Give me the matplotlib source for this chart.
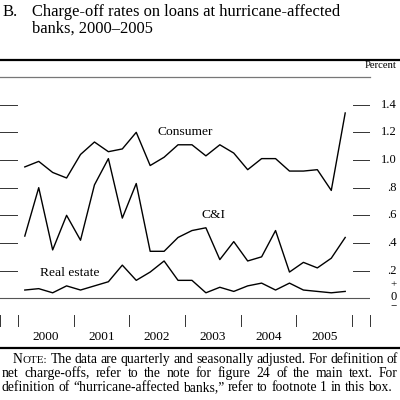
import numpy as np
import matplotlib
matplotlib.use("Agg")
import matplotlib.pyplot as plt

plt.rcParams["font.family"] = ["Liberation Serif", "DejaVu Serif"]

# quarterly data, 2000Q1 .. 2005Q4
years = np.arange(2000, 2006)
quarter_pos = np.array([0.125, 0.375, 0.625, 0.875])
consumer = [0.95, 0.99, 0.91, 0.87, 1.04, 1.13, 1.06, 1.08, 1.20, 0.96, 1.02, 1.11,
            1.11, 1.03, 1.11, 1.05, 0.93, 1.01, 1.01, 0.92, 0.92, 0.93, 0.78, 1.34]
c_and_i = [0.45, 0.80, 0.35, 0.60, 0.42, 0.82, 1.01, 0.58, 0.83, 0.34, 0.34, 0.44,
           0.49, 0.51, 0.28, 0.41, 0.27, 0.30, 0.49, 0.19, 0.26, 0.22, 0.29, 0.44]
real_estate = [0.06, 0.07, 0.04, 0.09, 0.06, 0.09, 0.12, 0.24, 0.13, 0.19, 0.27, 0.13,
               0.13, 0.04, 0.08, 0.05, 0.09, 0.11, 0.06, 0.11, 0.06, 0.05, 0.04, 0.05]
ytick_vals = [0.2, 0.4, 0.6, 0.8, 1.0, 1.2, 1.4]
ytick_labels = [".2", ".4", ".6", ".8", "1.0", "1.2", "1.4"]

x = (years[:, None] + quarter_pos[None, :]).ravel()

W = H = 400
fig = plt.figure(figsize=(4, 4), dpi=100)


def fx(px):
    return px / W


def fy(py):
    return 1 - py / H


# plot area
x0, x1 = 1999.68, 2006.32
ax = fig.add_axes([fx(0), fy(326), fx(370), fy(77) - fy(326)])
ax.set_xlim(x0, x1)
ax.set_ylim(-0.2, 1.6)
ax.axis("off")

for series in (consumer, c_and_i, real_estate):
    ax.plot(x, series, color="black", lw=1.0)

# zero line and top rule
ax.axhline(0, color="#555555", lw=0.8)
ax.axhline(1.6, color="#777777", lw=0.9, clip_on=False)

# short ticks on both sides
ty = ax.get_yaxis_transform()
for v in ytick_vals:
    ax.plot([0, 17 / 370], [v, v], transform=ty, color="#333333", lw=0.7)
    ax.plot([353 / 370, 1], [v, v], transform=ty, color="#333333", lw=0.7)

# year boundary ticks at bottom
tx = ax.get_xaxis_transform()
for b in [x0] + list(range(2000, 2007)) + [x1]:
    ax.plot([b, b], [0, 11 / 249], transform=tx, color="#333333", lw=0.7,
            clip_on=False)
for yr in years:
    ax.text(yr + 0.5, -0.045, str(yr), transform=tx, ha="center", va="center",
            fontsize=9.5)

# right tick labels
rt = matplotlib.transforms.blended_transform_factory(fig.transFigure, ax.transData)
for v, lab in zip(ytick_vals, ytick_labels):
    ax.text(fx(397), v, lab, transform=rt, ha="right", va="center", fontsize=9)
fig.text(fx(394), fy(285), "+", ha="center", va="center", fontsize=8)
fig.text(fx(394), fy(297), "0", ha="center", va="center", fontsize=9)
fig.text(fx(394), fy(307), "\u2212", ha="center", va="center", fontsize=8)
fig.text(fx(397), fy(66), "Percent", ha="right", va="center", fontsize=7.7)

# series labels
fig.text(fx(158), fy(132), "Consumer", ha="left", va="center", fontsize=9.7)
fig.text(fx(202), fy(215), "C&I", ha="left", va="center", fontsize=9.7)
fig.text(fx(40), fy(273), "Real estate", ha="left", va="center", fontsize=9.7)

# title
fig.text(fx(3), fy(16), "B.", ha="left", va="baseline", fontsize=11.9)
fig.text(fx(32), fy(16), "Charge-off rates on loans at hurricane-affected",
         ha="left", va="baseline", fontsize=11.9)
fig.text(fx(32), fy(33), "banks, 2000\u20132005", ha="left", va="baseline",
         fontsize=11.9)

# rules
fig.add_artist(plt.Line2D([0, 1], [fy(60), fy(60)], color="black", lw=1.6))
fig.add_artist(plt.Line2D([0, 1], [fy(348), fy(348)], color="black", lw=1.6))

# justified note
fs = 9.85
note_lines = [
    (13, 398, True, [[("N", fs), ("OTE:", fs * 0.8)], "The", "data", "are", "quarterly",
                     "and", "seasonally", "adjusted.", "For", "definition", "of"]),
    (2, 398, True, ["net", "charge-offs,", "refer", "to", "the", "note", "for", "figure",
                    "24", "of", "the", "main", "text.", "For"]),
    (2, 398, False, ["definition", "of", "\u201churricane-affected", "banks,\u201d", "refer",
                     "to", "footnote", "1", "in", "this", "box."]),
]
note_y = [363, 377, 391]
renderer = fig.canvas.get_renderer()

for (left, right, justify, words), yb in zip(note_lines, note_y):
    pieces = []
    widths = []
    for w in words:
        segs = [(w, fs)] if isinstance(w, str) else w
        arts = []
        total = 0
        for s, size in segs:
            t = fig.text(0, fy(yb), s, fontsize=size, va="baseline", ha="left")
            bb = t.get_window_extent(renderer)
            arts.append((t, bb.width))
            total += bb.width
        pieces.append(arts)
        widths.append(total)
    sp = fig.text(0, 0, "a a", fontsize=fs)
    sp2 = fig.text(0, 0, "aa", fontsize=fs)
    space = sp.get_window_extent(renderer).width - sp2.get_window_extent(renderer).width
    sp.remove()
    sp2.remove()
    if justify:
        gap = (right - left - sum(widths)) / (len(words) - 1)
    else:
        gap = space
    cur = left
    for arts, wd in zip(pieces, widths):
        c = cur
        for t, bw in arts:
            t.set_x(fx(c))
            c += bw
        cur += wd + gap

fig.savefig("out.png", dpi=100)
